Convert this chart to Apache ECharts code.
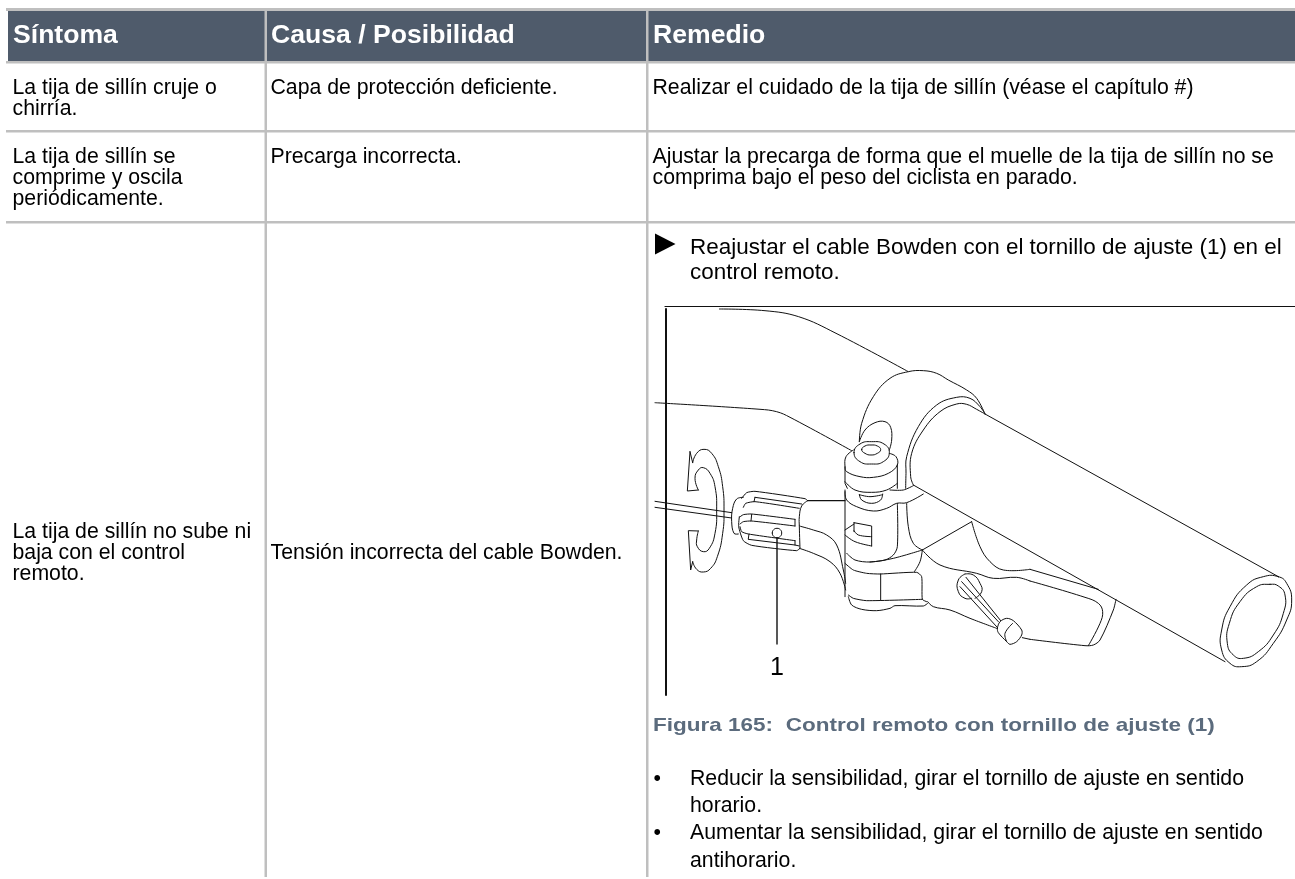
<!DOCTYPE html>
<html><head><meta charset="utf-8">
<style>html,body{margin:0;padding:0;background:#fff}#c{width:1295px;height:879px}</style>
<script src="https://cdn.jsdelivr.net/npm/echarts@6/dist/echarts.min.js"></script>
</head><body><div id="c"></div>
<script>
// ---- table content ----
const headers = ['Síntoma', 'Causa / Posibilidad', 'Remedio'];
const symptoms = [
  ['La tija de sillín cruje o', 'chirría.'],
  ['La tija de sillín se', 'comprime y oscila', 'periódicamente.'],
  ['La tija de sillín no sube ni', 'baja con el control', 'remoto.']
];
const causes = ['Capa de protección deficiente.', 'Precarga incorrecta.', 'Tensión incorrecta del cable Bowden.'];
const remedyRow1 = ['Realizar el cuidado de la tija de sillín (véase el capítulo #)'];
const remedyRow2 = ['Ajustar la precarga de forma que el muelle de la tija de sillín no se', 'comprima bajo el peso del ciclista en parado.'];
const remedyStep = ['Reajustar el cable Bowden con el tornillo de ajuste (1) en el', 'control remoto.'];
const figureCaption = 'Figura 165:  Control remoto con tornillo de ajuste (1)';
const calloutLabel = '1';
const bulletA = ['Reducir la sensibilidad, girar el tornillo de ajuste en sentido', 'horario.'];
const bulletB = ['Aumentar la sensibilidad, girar el tornillo de ajuste en sentido', 'antihorario.'];

// ---- layout ----
const GREY = '#bfbfbf', HEAD = '#4f5b6b', CAP = '#5b6b7d', INK = '#000';
const FAM = '"Liberation Sans", Arial, sans-serif';
const BODY = '21.25px ' + FAM;
const rects = [
  [6, 8, 1289, 3, GREY], [8, 11, 1287, 50, HEAD], [6, 61, 1289, 2.5, GREY],
  [264.5, 11, 2.5, 866, GREY], [646, 11, 2.5, 866, GREY],
  [6, 130, 1289, 2.5, GREY], [6, 221, 1289, 2.5, GREY]
];
const texts = [];
function put(lines, x, y, step, font, fill, sx) { lines.forEach((t, i) => texts.push({t, x, y: y + i * step, font: font || BODY, fill: fill || INK, sx: sx || 1})); }
const HF = 'bold 26.6px ' + FAM;
put([headers[0]], 13, 35.5, 0, HF, '#fff');
put([headers[1]], 271, 35.5, 0, HF, '#fff');
put([headers[2]], 653, 35.5, 0, HF, '#fff');
put(symptoms[0], 12.5, 88, 21);
put(symptoms[1], 12.5, 156.7, 21);
put(symptoms[2], 12.5, 532, 21);
put([causes[0]], 270.5, 88, 0);
put([causes[1]], 270.5, 156.7, 0);
put([causes[2]], 270.5, 553, 0);
put(remedyRow1, 652.5, 88, 0);
put(remedyRow2, 652.5, 156.7, 21);
put(remedyStep, 690, 247.7, 25, BODY, INK, 1.057);
put([figureCaption], 653, 726, 0, 'bold 19px ' + FAM, CAP, 1.185);
put(bulletA, 690, 779, 27.5);
put(bulletB, 690, 833.5, 27.5);
put(['•'], 653.5, 779, 0);
put(['•'], 653.5, 833.5, 0);
put([calloutLabel], 770, 668, 0, '25px ' + FAM);

// ---- illustration strokes ----
const frame = [
  {a:[[665,306.5],[1295,306.5]], w:1.2},
  {a:[[666,309],[666,695]], w:2},
  {a:[[777,538],[777,644]], w:1.4}
];
const knob = { o:[680,420], k:3, list:[
  {p:[30,95,38,128]},
  {p:[38,128,50,100,72,88,95,100,115,140,128,200,132,270,128,340,112,410,92,445,70,456,50,448,38,425], s:.5},
  {p:[38,425,32,450,25,332,55,333]},
  {p:[55,333,50,360,52,380,70,395,88,385,105,340,110,270,105,200,90,160,70,143,55,150,45,175,55,210], s:.5},
  {p:[55,210,22,213,30,95]},
  {p:[190,232,170,237,158,265,155,305,162,340,175,342], s:.4},
  {p:[185,235,200,218,225,214,375,236,383,242], s:.2},
  {p:[383,242,365,258,358,290,358,320,360,385], s:.4},
  {p:[178,290,176,320,190,362,215,376,350,392,360,385], s:.2},
  {p:[225,232,365,252]},
  {p:[190,262,197,250,225,245,358,265], s:.2},
  {p:[178,292,190,284,215,282,345,298], s:.2},
  {p:[180,312,190,305,215,303,345,318], s:.2},
  {p:[180,320,185,335,205,342,345,362], s:.2},
  {p:[205,358,345,375,358,378]},
  {p:[215,283,213,303]},{p:[225,232,222,245]},{p:[207,342,205,356]},{p:[345,298,345,318]},{p:[345,362,345,375]},
  {p:[383,242,495,242], w:1.2},
  {p:[358,318,400,330,440,345,470,375,490,450,497,490], s:.4},
  {p:[358,385,400,400,450,425,480,460,497,510], s:.4},
  {p:[277,339,281,329,291,325,301,329,305,339,301,349,291,353,281,349], s:.5, c:1},
  {p:[-75,244,155,278]},{p:[-75,262,155,294]}
]};
const clamp = { o:[790,340], k:3, list:[
  {p:[208,305,215,250,250,170,300,115,355,95,400,92,440,100,475,120,530,150,560,175,585,222], s:.4},
  {p:[347,445,348,400,350,350,385,260,440,195,500,172,540,175,570,200,585,222], s:.4},
  {p:[370,435,362,410,365,340,400,270,450,215,500,192,530,193,560,208,585,222], s:.4},
  {p:[208,305,225,270,255,248,285,245,302,262,305,300,298,330], s:.4},
  {p:[215,329,225,318,243,315,262,318,272,329,262,340,243,345,225,340], s:.5, c:1},
  {p:[192,338,210,312,245,305,282,312,298,338,280,365,245,372,210,365], s:.5, c:1},
  {p:[190,330,168,350,165,380,170,395,210,410,250,412,295,400,322,375,318,350,298,340], s:.4},
  {p:[165,380,165,430,172,445]},{p:[322,375,322,445]},
  {p:[165,425,195,450,245,457,290,450,322,430], s:.4},
  {p:[208,464,215,480,245,490,272,480,278,462], s:.4},
  {p:[208,464,240,470,278,464], s:.4},
  {p:[165,455,170,480,200,500,250,513,290,505,320,490,350,488,400,462], s:.4},
  {p:[300,450,340,450,370,437], s:.3},
  {p:[165,450,165,770]},
  {p:[322,490,322,620,310,645,285,660,240,666], s:.3},
  {p:[170,640,195,660,240,666,310,655,397,630], s:.3},
  {p:[165,570,192,552]},{p:[192,548,245,558,245,618]},{p:[192,548,192,575]},
  {p:[192,572,205,585,245,590], s:.4},
  {p:[165,585,195,605,245,618], s:.4},
  {p:[350,490,355,560,370,610,397,630], s:.4},
  {p:[397,630,545,545]},
  {p:[545,545,570,620,600,665,640,690,720,688], s:.4},
  {p:[397,630,450,675,560,700,610,715,680,712,720,723], s:.4},
  {p:[397,630,390,665,373,695], s:.4},
  {p:[165,670,190,690,230,700,270,702,380,697,395,710,397,778,410,785], s:.2},
  {p:[272,702,272,780]},
  {p:[175,765,190,775,230,782,397,778], s:.2},
  {p:[175,770,185,795,215,808,260,812,300,805,315,797,400,798,413,790], s:.3},
  {p:[413,785,430,800,480,810,540,835,620,865], s:.4},
  {p:[525,702,505,720,505,755,525,775,545,775], s:.5},
  {p:[525,702,550,705,570,730,575,755,555,775], s:.5},
  {p:[515,725,625,845]},{p:[528,712,632,842]},{p:[510,740,620,860]},
  {p:[622,865,630,845,650,835,670,842,695,870,695,885,680,905,660,913,650,905,625,878], s:.3, c:1},
  {p:[650,905,645,880,668,850], s:.4},
  {p:[697,893,720,898]}
]};
const tube = { o:[1030,480], k:3, list:[
  {p:[745,290,700,290,650,315,600,380,575,450,575,510,600,550,635,560,680,545,730,490,770,420,785,360,770,310], s:.5, c:1},
  {p:[720,313,680,320,630,365,598,430,592,490,610,525,640,535,685,515,730,465,760,400,765,345,745,318], s:.5, c:1},
  {p:[0,268,205,328]},
  {p:[0,303,165,352,205,370,218,395,210,430,175,497], s:.4},
  {p:[0,478,165,497,190,495,210,480,250,390,258,358], s:.3},
  {p:[-135,-198,745,290]},
  {p:[-350,15,585,545]}
]};
const gripTop = [[719.4,309],[765,310.7],[798.7,316.7],[836,333.3],[908,371.5]];
const gripBack = [[655,402.7],[760,409.3],[776.7,411.7],[790,417.3],[851.7,450.7]];
const strokes = [];
[knob, clamp, tube].forEach(g => g.list.forEach(st => {
  const pts = [];
  for (let i = 0; i < st.p.length; i += 2) pts.push([g.o[0] + st.p[i] / g.k, g.o[1] + st.p[i + 1] / g.k]);
  strokes.push({pts, s: st.s || 0, c: st.c, w: st.w || 1});
}));
strokes.push({pts: gripTop, s: .4, w: 1});
strokes.push({pts: gripBack, s: .4, w: 1});
frame.forEach(f => strokes.push({pts: f.a, s: 0, w: f.w}));

const chart = echarts.init(document.getElementById('c'), null, {renderer: 'canvas'});
chart.setOption({
  animation: false,
  backgroundColor: '#fff',
  grid: {left: 0, right: 0, top: 0, bottom: 0},
  xAxis: {type: 'value', min: 0, max: 1295, show: false},
  yAxis: {type: 'value', min: 0, max: 879, inverse: true, show: false},
  series: [
    {type: 'custom', silent: true, clip: false, z: 1, data: rects.map((r, i) => [i]),
     encode: {x: 0},
     renderItem: (p, api) => {
       const r = rects[api.value(0)], a = api.coord([r[0], r[1]]), s = api.size([r[2], r[3]]);
       return {type: 'rect', shape: {x: a[0], y: a[1], width: s[0], height: s[1]}, style: {fill: r[4]}};
     }},
    {type: 'custom', silent: true, clip: false, z: 2, data: strokes.map((r, i) => [i]),
     encode: {x: 0},
     renderItem: (p, api) => {
       const st = strokes[api.value(0)], pts = st.pts.map(q => api.coord(q));
       return {type: st.c ? 'polygon' : 'polyline', shape: {points: pts, smooth: st.s},
         style: {stroke: '#111', fill: st.c ? 'rgba(0,0,0,0)' : null, lineWidth: st.w, lineJoin: 'round', lineCap: 'round'}};
     }},
    {type: 'custom', silent: true, clip: false, z: 3, data: [[0]], encode: {x: 0},
     renderItem: (p, api) => ({type: 'polygon',
       shape: {points: [[655, 233.5], [675.5, 244], [655, 254.5]].map(q => api.coord(q))}, style: {fill: '#000'}})},
    {type: 'custom', silent: true, clip: false, z: 4, data: texts.map((r, i) => [i]),
     encode: {x: 0},
     renderItem: (p, api) => {
       const t = texts[api.value(0)], a = api.coord([t.x, t.y]);
       return {type: 'text', x: a[0], y: a[1], scaleX: t.sx, style: {text: t.t, font: t.font, fill: t.fill, textAlign: 'left', textVerticalAlign: 'middle'}};
     }}
  ]
});
</script></body></html>
